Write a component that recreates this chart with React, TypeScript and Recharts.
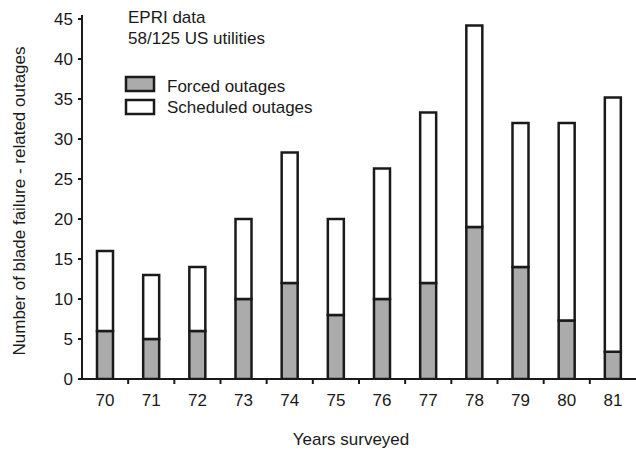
import React from 'react';
import { BarChart, Bar, XAxis, YAxis } from 'recharts';

const years = ['70', '71', '72', '73', '74', '75', '76', '77', '78', '79', '80', '81'];
const forcedOutages = [6, 5, 6, 10, 12, 8, 10, 12, 19, 14, 7.3, 3.4];
const scheduledOutages = [10, 8, 8, 10, 16.3, 12, 16.3, 21.3, 25.2, 18, 24.7, 31.8];
const yTicks = [0, 5, 10, 15, 20, 25, 30, 35, 40, 45];

const data = years.map((y, i) => ({ year: y, forced: forcedOutages[i], scheduled: scheduledOutages[i] }));

const FONT = '"Liberation Sans", Arial, Helvetica, sans-serif';
const INK = '#1a1a1a';
const GREY = '#ababab';

const XTick = (props: any) => {
  const { x, y, payload, index } = props;
  const off = payload && typeof payload.offset === 'number' ? payload.offset : 0;
  return (
    <g>
      {index < years.length - 1 && (
        <line x1={x + off} x2={x + off} y1={y} y2={y + 5} stroke={INK} strokeWidth={2} />
      )}
      <text x={x} y={y + 27} textAnchor="middle" fontSize={17} fill={INK} fontFamily={FONT}>
        {payload.value}
      </text>
    </g>
  );
};

export default function App() {
  return (
    <div style={{ position: 'absolute', left: 0, top: 0, width: 636, height: 451, background: '#fff', fontFamily: FONT }}>
      <BarChart width={636} height={451} data={data} margin={{ top: 15, right: 0, left: 0, bottom: 42 }}>
        <XAxis
          dataKey="year"
          interval={0}
          height={30}
          tickSize={0}
          tickMargin={0}
          tickLine={false}
          axisLine={{ stroke: INK, strokeWidth: 2 }}
          tick={<XTick />}
        />
        <YAxis
          width={82}
          domain={[0, 45.5]}
          ticks={yTicks}
          allowDataOverflow
          tickSize={4}
          tickMargin={5}
          axisLine={{ stroke: INK, strokeWidth: 2 }}
          tickLine={{ stroke: INK, strokeWidth: 2 }}
          tick={{ fontSize: 17, fill: INK, fontFamily: FONT }}
        />
        <Bar dataKey="forced" name="Forced outages" stackId="a" fill={GREY} stroke={INK} strokeWidth={2.5} barSize={16} isAnimationActive={false} />
        <Bar dataKey="scheduled" name="Scheduled outages" stackId="a" fill="#ffffff" stroke={INK} strokeWidth={2.5} barSize={16} isAnimationActive={false} />
      </BarChart>
      <svg width={636} height={451} style={{ position: 'absolute', left: 0, top: 0, pointerEvents: 'none' }} fontFamily={FONT}>
        <text x={128} y={23} fontSize={17} fill={INK}>EPRI data</text>
        <text x={128} y={44} fontSize={17} fill={INK}>58/125 US utilities</text>
        <rect x={126} y={77} width={28} height={14} fill={GREY} stroke={INK} strokeWidth={2.5} />
        <text x={167} y={92} fontSize={17} fill={INK}>Forced outages</text>
        <rect x={126} y={100} width={28} height={14} fill="#ffffff" stroke={INK} strokeWidth={2.5} />
        <text x={167} y={113} fontSize={17} fill={INK}>Scheduled outages</text>
        <text transform="translate(25,201) rotate(-90)" textAnchor="middle" fontSize={17} fill={INK}>
          Number of blade failure - related outages
        </text>
        <text x={351} y={445} textAnchor="middle" fontSize={17} fill={INK}>Years surveyed</text>
      </svg>
    </div>
  );
}
